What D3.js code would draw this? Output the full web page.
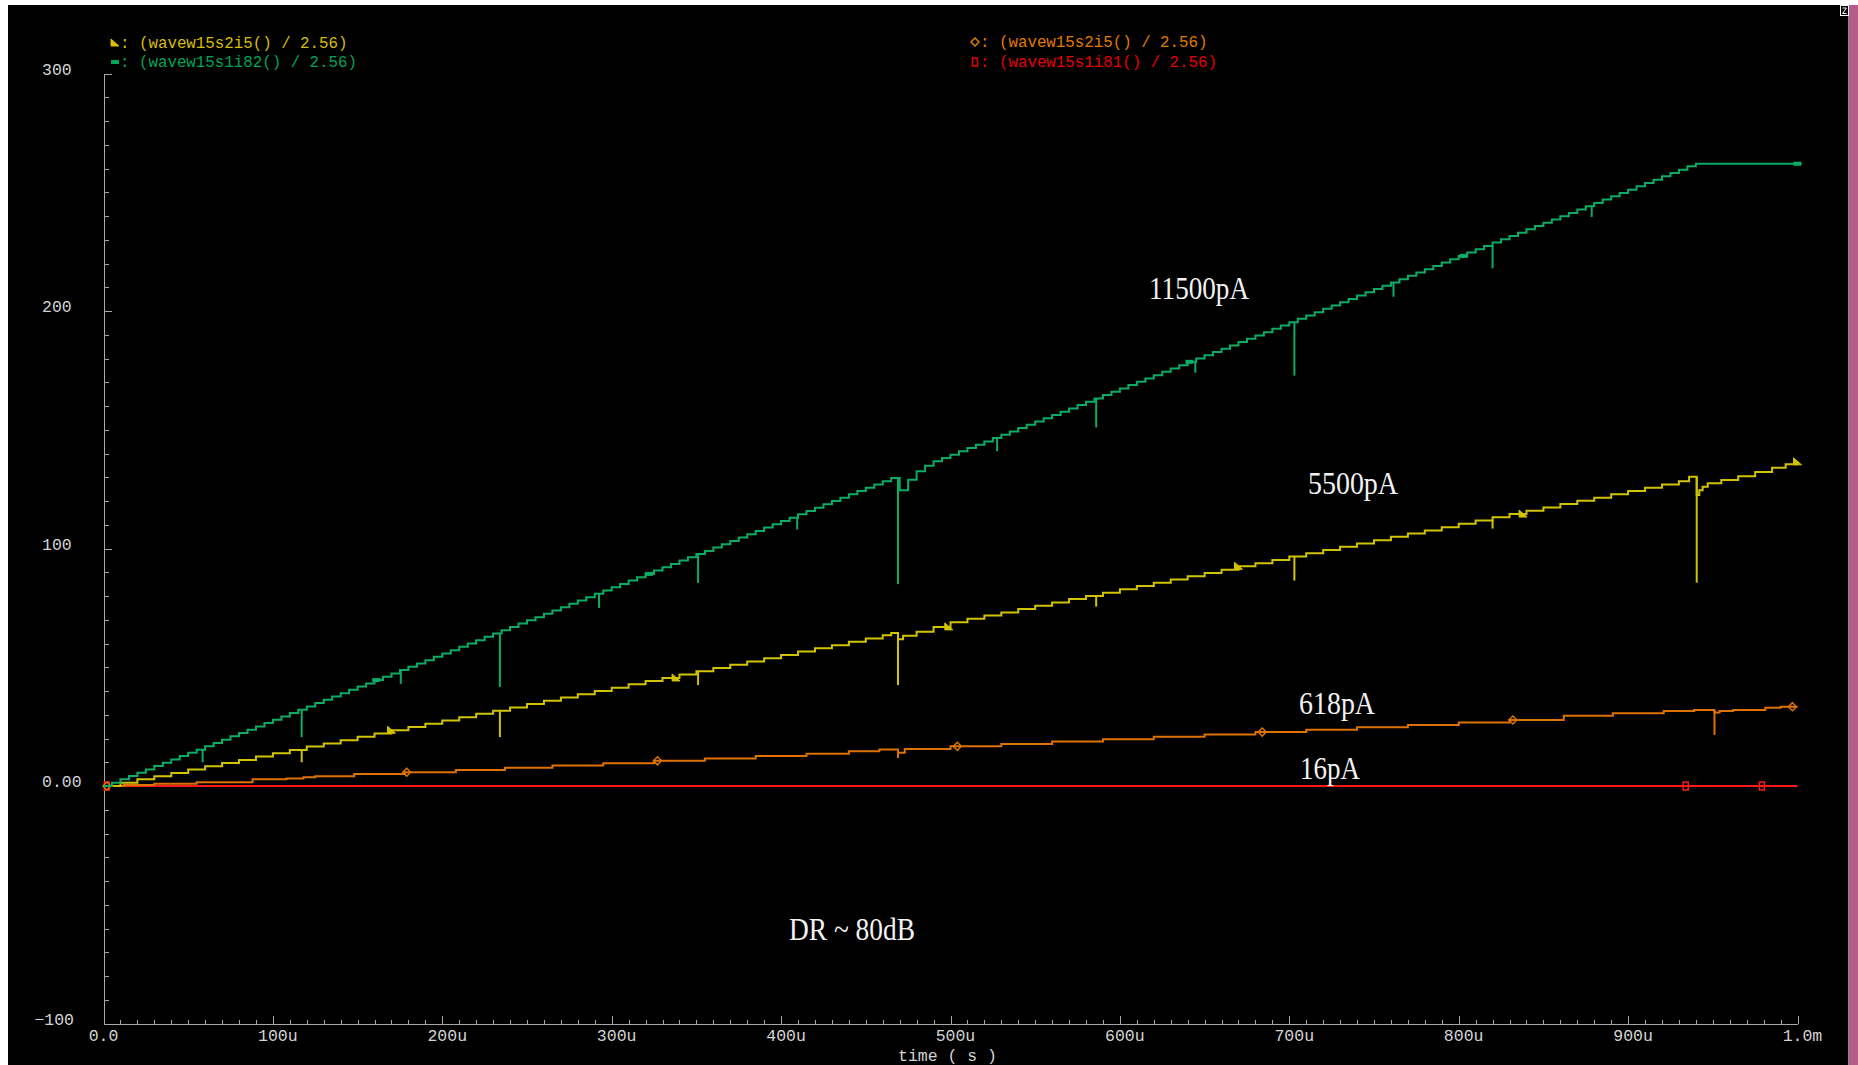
<!DOCTYPE html>
<html><head><meta charset="utf-8">
<script src="https://cdn.jsdelivr.net/npm/d3@7"></script>
<style>html,body{margin:0;padding:0;background:#fff;overflow:hidden}</style>
</head><body><svg id="c" width="1858" height="1065"></svg>
<script>
// ---------------- DATA (time in µs, value in output units) ----------------
const xMajorTicks = [0,100,200,300,400,500,600,700,800,900,1000];
const xTickLabels = ["0.0","100u","200u","300u","400u","500u","600u","700u","800u","900u","1.0m"];
const yMajorTicks = [300,200,100,0,-100];
const yTickLabels = ["300","200","100","0.00","\u2212100"];
const xAxisTitle = "time ( s )";

// green (wavew15s1i82 / 2.56), sampled every 5 µs
const greenValues = [
 0,1.4,2.8,4.2,5.6,7.0,8.4,9.8,11.2,12.6,
 14.0,15.3,16.7,18.1,19.5,20.9,22.3,23.7,25.1,26.5,
 27.9,29.3,30.7,32.1,33.5,34.9,36.3,37.7,39.1,40.5,
 41.9,43.2,44.6,46.0,47.4,48.8,50.2,51.6,53.0,54.4,
 55.8,57.2,58.6,60.0,61.4,62.8,64.2,65.6,67.0,68.4,
 69.8,71.1,72.5,73.9,75.3,76.7,78.1,79.5,80.9,82.3,
 83.7,85.1,86.5,87.9,89.3,90.7,92.1,93.5,94.9,96.3,
 97.7,99.0,100.4,101.8,103.2,104.6,106.0,107.4,108.8,110.2,
 111.6,113.0,114.4,115.8,117.2,118.6,120.0,121.4,122.8,124.2,
 125.6,126.9,128.3,129.7,124.5,129.0,132.5,134.8,136.7,138.1,
 139.5,140.9,142.3,143.7,145.1,146.5,147.9,149.3,150.7,152.1,
 153.5,154.8,156.2,157.6,159.0,160.4,161.8,163.2,164.6,166.0,
 167.4,168.8,170.2,171.6,173.0,174.4,175.8,177.2,178.6,180.0,
 181.4,182.7,184.1,185.5,186.9,188.3,189.7,191.1,192.5,193.9,
 195.3,196.7,198.1,199.5,200.9,202.3,203.7,205.1,206.5,207.9,
 209.3,210.6,212.0,213.4,214.8,216.2,217.6,219.0,220.4,221.8,
 223.2,224.6,226.0,227.4,228.8,230.2,231.6,233.0,234.4,235.8,
 237.2,238.5,239.9,241.3,242.7,244.1,245.5,246.9,248.3,249.7,
 251.1,252.5,253.9,255.3,256.7,258.1,259.5,260.9,262.0,262.0,
 262.0,262.0,262.0,262.0,262.0,262.0,262.0,262.0,262.0,262.0,
 262.0];
const greenTimes = d3.range(0, 1001, 5);

// yellow (wavew15s2i5 / 2.56): [time, value]
const yellowData = [[0,0],[10,1.4],[20,2.8],[30,4.1],[40,5.5],[50,6.9],[60,8.3],[70,9.7],[80,11.0],[90,12.4],
 [100,13.8],[110,15.2],[120,16.6],[130,17.9],[140,19.3],[150,20.7],[160,22.1],[170,23.5],[180,24.8],[190,26.2],
 [200,27.6],[210,29.0],[220,30.4],[230,31.7],[240,33.1],[250,34.5],[260,35.9],[270,37.3],[280,38.6],[290,40.0],
 [300,41.4],[310,42.8],[320,44.2],[330,45.5],[340,46.9],[350,48.3],[360,49.7],[370,51.1],[380,52.4],[390,53.8],
 [400,55.2],[410,56.6],[420,58.0],[430,59.3],[440,60.7],[450,62.1],[460,63.5],[465,64.4],[469,61.8],[472,63.3],
 [480,65.0],[490,67.0],[500,69.0],[510,70.4],[520,71.8],[530,73.1],[540,74.5],[550,75.9],[560,77.3],[570,78.7],
 [580,80.0],[590,81.4],[600,82.8],[610,84.2],[620,85.6],[630,86.9],[640,88.3],[650,89.7],[660,91.1],[670,92.5],
 [680,93.8],[690,95.2],[700,96.6],[710,98.0],[720,99.4],[730,100.7],[740,102.1],[750,103.5],[760,104.9],[770,106.3],
 [780,107.6],[790,109.0],[800,110.4],[810,111.8],[820,113.2],[830,114.5],[840,115.9],[850,117.3],[860,118.7],[870,120.1],
 [880,121.4],[890,122.8],[900,124.2],[910,125.6],[920,127.0],[930,128.3],[936,130.2],[940.5,122.5],[942,124.5],[944,126.0],
 [947,127.5],[955,128.8],[965,130.4],[975,132.2],[985,134.0],[993,135.5],[1000,136.5]];

// orange (wavew15s2i5 / 2.56, 618pA): [time, value]
const orangeData = [[0,0],[12,0.4],[30,0.9],[55,1.6],[88,2.8],[108,3.2],[118,3.7],[125,4.1],[148,5.1],[178,5.8],
 [208,6.7],[237,7.7],[265,8.6],[295,9.6],[325,10.6],[355,11.6],[385,12.6],[415,13.6],[440,14.6],[458,15.4],[469,14.0],
 [473,15.6],[500,16.7],[530,17.7],[560,18.7],[590,19.7],[620,20.7],[650,21.7],[680,22.7],[710,23.7],[740,24.7],
 [770,25.7],[800,26.7],[830,27.8],[862,29.6],[891,30.6],[921,31.6],[939,32.0],[951,30.9],[954,31.6],[962,32.0],
 [981,33.0],[990,33.4],[1000,33.4]];

// red (wavew15s1i81 / 2.56, 16pA)
const redData = [[0,0],[1000,0]];

// glitches: [time, bottom value]
const greenSpikes = [[58.5,10],[117,20.6],[175.5,43],[234,41.7],[292.5,75],[351,85.5],[409.5,108],[469,85],
 [527.5,141],[586,151],[644.5,174],[703,172.8],[761.5,206],[820,218],[878.5,239.6]];
const yellowSpikes = [[117,10],[234,20.6],[351,42.5],[469,42.5],[586,75.5],[703,86.5],[820,108.4],[940.5,85.6]];
const orangeSpikes = [[237,6.5],[469,11.8],[951,21.5]];

// marker times
const greenMarkers = [161,322,641,803,1000];
const yellowMarkers = [170,338,499,670,838,1000];
const orangeMarkers = [2,179,327,504,684,832,997];
const redMarkers = [2,934,979];

const legendNames = ["(wavew15s2i5() / 2.56)","(wavew15s1i82() / 2.56)","(wavew15s2i5() / 2.56)","(wavew15s1i81() / 2.56)"];
const annotations = ["11500pA","5500pA","618pA","16pA","DR ~ 80dB"];

// ---------------- DRAWING ----------------
const COL = {green:"#0aac66", yellow:"#d2c300", orange:"#dd7200", red:"#ff1a1a"};
const LEG = {green:"#00a458", yellow:"#d8bd00", orange:"#e07a00", red:"#e80000"};
const svg = d3.select("#c");
svg.append("rect").attr("x",0).attr("y",0).attr("width",1858).attr("height",1065).attr("fill","#fff");
svg.append("rect").attr("x",8).attr("y",5).attr("width",1841).attr("height",1060).attr("fill","#000");
svg.append("rect").attr("x",1849).attr("y",5).attr("width",9).attr("height",1060).attr("fill","#b65a86");
svg.append("line").attr("x1",1848.5).attr("x2",1848.5).attr("y1",5).attr("y2",1065).attr("stroke","#8a8a8a");
// small corner icon
svg.append("rect").attr("x",1840.5).attr("y",5.5).attr("width",8).attr("height",10).attr("fill","#000").attr("stroke","#fff");
svg.append("path").attr("d","M1842.5,8 L1846.5,8 L1842.5,13.5 L1846.5,13.5").attr("fill","none").attr("stroke","#fff").attr("stroke-width",1);

const x = d3.scaleLinear().domain([0,1000]).range([103.5,1797.5]);
const y = d3.scaleLinear().domain([-100,300]).range([1023.5,73.5]);
const AX = "#a8a8a8", TXT = "#d4d4d4";
const mono = "'Liberation Mono', 'DejaVu Sans Mono', monospace";

// x axis: minor + major
const gxMinor = svg.append("g").attr("transform",`translate(0,${y(-100)})`)
  .call(d3.axisBottom(x).tickValues(d3.range(0,1001,10)).tickSizeInner(-4).tickSizeOuter(0).tickFormat(""));
gxMinor.select(".domain").remove();
const gxMajor = svg.append("g").attr("transform",`translate(0,${y(-100)})`)
  .call(d3.axisBottom(x).tickValues(xMajorTicks).tickSizeInner(-8).tickSizeOuter(0).tickFormat(""));
// y axis: minor + major (ticks pointing right, inside)
const gyMinor = svg.append("g").attr("transform",`translate(${x(0)},0)`)
  .call(d3.axisLeft(y).tickValues(d3.range(-100,301,10)).tickSizeInner(-5).tickSizeOuter(0).tickFormat(""));
gyMinor.select(".domain").remove();
const gyMajor = svg.append("g").attr("transform",`translate(${x(0)},0)`)
  .call(d3.axisLeft(y).tickValues(yMajorTicks).tickSizeInner(-8).tickSizeOuter(0).tickFormat(""));
svg.selectAll(".domain, .tick line").attr("stroke",AX).attr("stroke-width",1).attr("shape-rendering","crispEdges");

const fs = 16.5, cw = 0.6*fs;
svg.append("g").selectAll("text").data(xMajorTicks).join("text")
  .attr("x",(d,i)=> x(d) - xTickLabels[i].replace(/[um]$/,"").length*cw/2)
  .attr("y", y(-100)+17.5)
  .attr("fill",TXT).attr("font-family",mono).attr("font-size",fs)
  .text((d,i)=>xTickLabels[i]);
svg.append("g").selectAll("text").data(yMajorTicks).join("text")
  .attr("x",d=> d<0 ? 74 : 42)
  .attr("text-anchor",d=> d<0 ? "end" : "start")
  .attr("y",d=> y(d)+1)
  .attr("fill",TXT).attr("font-family",mono).attr("font-size",fs)
  .text((d,i)=>yTickLabels[i]);
svg.append("text").attr("x",(x(0)+x(1000))/2 - 3).attr("y",1061).attr("text-anchor","middle")
  .attr("fill",TXT).attr("font-family",mono).attr("font-size",fs).text(xAxisTitle);

// series
const greenData = greenTimes.map((t,i)=>[t, greenValues[i]]);
const line = d3.line().x(d=>x(d[0])).y(d=>y(d[1])).curve(d3.curveStepAfter);
const bis = d3.bisector(d=>d[0]).right;
function valueAt(data,t){ const i = Math.max(0, bis(data,t)-1); return data[i][1]; }

const series = [
  {data:redData, color:COL.red, spikes:[], markers:redMarkers, shape:"rectv"},
  {data:orangeData, color:COL.orange, spikes:orangeSpikes, markers:orangeMarkers, shape:"diamond"},
  {data:yellowData, color:COL.yellow, spikes:yellowSpikes, markers:yellowMarkers, shape:"tri"},
  {data:greenData, color:COL.green, spikes:greenSpikes, markers:greenMarkers, shape:"rect"}
];

function marker(g, shape, cx, cy, color){
  if(shape==="rect"){
    g.append("rect").attr("x",cx-4).attr("y",cy-2).attr("width",8).attr("height",4).attr("fill",color);
  } else if(shape==="rectv"){
    g.append("rect").attr("x",cx-2.5).attr("y",cy-4).attr("width",5).attr("height",8).attr("fill","none").attr("stroke",color).attr("stroke-width",1.5);
  } else if(shape==="diamond"){
    g.append("path").attr("d",`M${cx},${cy-4}L${cx+4},${cy}L${cx},${cy+4}L${cx-4},${cy}Z`).attr("fill","none").attr("stroke",color).attr("stroke-width",1.5);
  } else {
    g.append("path").attr("d",`M${cx-4},${cy+3}L${cx+4},${cy+3}L${cx-4},${cy-4}Z`).attr("fill",color).attr("stroke",color).attr("stroke-width",1);
  }
}

series.forEach(s=>{
  const g = svg.append("g");
  g.append("path").datum(s.data).attr("d",line).attr("fill","none").attr("stroke",s.color).attr("stroke-width",2);
  g.selectAll("line.sp").data(s.spikes).join("line").attr("class","sp")
    .attr("x1",d=>x(d[0])).attr("x2",d=>x(d[0]))
    .attr("y1",d=>y(valueAt(s.data,d[0]-0.01))).attr("y2",d=>y(d[1]))
    .attr("stroke",s.color).attr("stroke-width",2);
  s.markers.forEach(t=> marker(g, s.shape, x(t), y(valueAt(s.data,t)), s.color));
});

// legend
const legend = [
  {name:legendNames[0], color:LEG.yellow, shape:"tri", mx:115, ty:48, my:43},
  {name:legendNames[1], color:LEG.green, shape:"rect", mx:115, ty:67, my:62},
  {name:legendNames[2], color:LEG.orange, shape:"diamond", mx:975, ty:47, my:42},
  {name:legendNames[3], color:LEG.red, shape:"rectv", mx:975, ty:67, my:62}
];
legend.forEach(l=>{
  const g = svg.append("g");
  marker(g, l.shape, l.mx, l.my, l.color);
  g.append("text").attr("x",l.mx+5).attr("y",l.ty).attr("fill",l.color)
    .attr("font-family",mono).attr("font-size",15.8).attr("xml:space","preserve")
    .text(": " + l.name);
});

// annotations
const annPos = [[1149,299,100],[1308,494,90],[1299,714,76],[1300,779,60],[789,940,126]];
svg.append("g").selectAll("text").data(annotations).join("text")
  .attr("x",(d,i)=>annPos[i][0]).attr("y",(d,i)=>annPos[i][1])
  .attr("textLength",(d,i)=>annPos[i][2]).attr("lengthAdjust","spacingAndGlyphs")
  .attr("fill","#f2f2f2").attr("font-family","'Liberation Serif','Times New Roman',serif").attr("font-size",32)
  .text(d=>d);
</script></body></html>
